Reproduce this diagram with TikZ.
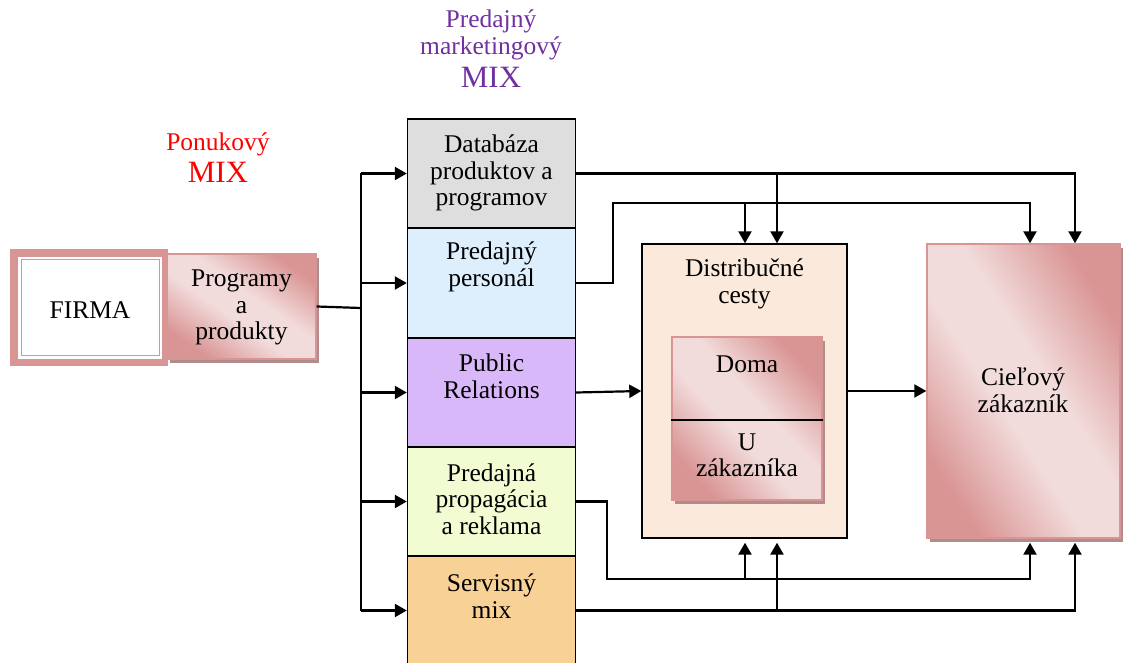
\documentclass[tikz,border=0pt]{standalone}
\usepackage{fontspec}
\setmainfont{Liberation Serif}
\usetikzlibrary{arrows.meta,shadows}

\definecolor{pinkD}{HTML}{D99594}
\definecolor{pinkL}{HTML}{F2DBDB}
\definecolor{pinkShadow}{HTML}{B08D8C}
\definecolor{dbGray}{HTML}{DEDEDE}
\definecolor{persBlue}{HTML}{DDEEFD}
\definecolor{prLilac}{HTML}{D9B8F9}
\definecolor{promoGreen}{HTML}{F2FCD3}
\definecolor{servOrange}{HTML}{F8D196}
\definecolor{distPeach}{HTML}{FBE9DB}
\definecolor{mixPurple}{HTML}{7030A0}
\definecolor{mixRed}{HTML}{FF0000}

% light diagonal band between darker corners
\pgfdeclareverticalshading{pinkband}{100bp}{color(0bp)=(pinkD); color(25bp)=(pinkD); color(44bp)=(pinkL); color(56bp)=(pinkL); color(75bp)=(pinkD); color(100bp)=(pinkD)}

\tikzset{
  txt/.style={font=\fontsize{25.5}{26.5}\selectfont, align=center, inner sep=0pt},
  bigtxt/.style={txt, font=\fontsize{31}{32}\selectfont},
  cell/.style={draw=black, line width=1.4pt, minimum width=168, minimum height=109, inner sep=0pt},
  pinkbox/.style={draw=pinkD, line width=1.4pt, shading=pinkband, shading angle=-45,
    drop shadow={shadow xshift=3pt, shadow yshift=-4pt, fill=pinkShadow, opacity=1},
    inner sep=0pt},
  conn/.style={line width=2.2pt},
  arr/.style={conn, -{Triangle[length=12pt,width=13pt]}},
}

\begin{document}
\begin{tikzpicture}[x=1pt,y=-1pt]
\useasboundingbox (0,0) rectangle (1124,663);

% headings
\node[txt, text=mixPurple] (mixTitle) at (491,35) {Predajný\\marketingový};
\node[bigtxt, text=mixPurple] (mixTitleB) at (491,77) {MIX};
\node[txt, text=mixRed] (offerTitle) at (218,144) {Ponukový};
\node[bigtxt, text=mixRed] (offerTitleB) at (218,172) {MIX};

% company
\node[fill=pinkD, minimum width=158, minimum height=117, inner sep=0pt] (firmaOuter) at (89,307.5) {};
\node[fill=white, minimum width=144, minimum height=102, inner sep=0pt] (firmaInner) at (90,307.5) {};
\node[draw=pinkD, line width=1pt, minimum width=138, minimum height=96, inner sep=0pt] (firmaLine) at (90,307.5) {};
\node[txt] (firma) at (90,310) {FIRMA};

\node[pinkbox, shading angle=-35, minimum width=149, minimum height=105] (prog) at (241.5,306.5) {};
\node[txt] (progT) at (241.5,307.5) {Programy\\a\\produkty};

% marketing mix column
\node[cell, fill=dbGray] (db) at (491.5,173.5) {};
\node[cell, fill=persBlue, minimum height=110] (pers) at (491.5,283) {};
\node[cell, fill=prLilac] (pr) at (491.5,392.5) {};
\node[cell, fill=promoGreen] (promo) at (491.5,501.5) {};
\node[cell, fill=servOrange] (serv) at (491.5,610.5) {};

\node[txt] (dbT) at (491.5,173) {Databáza\\produktov a\\programov};
\node[txt] (persT) at (491.5,267) {Predajný\\personál};
\node[txt] (prT) at (491.5,376.5) {Public\\Relations};
\node[txt] (promoT) at (491.5,499) {Predajná\\propagácia\\a reklama};
\node[txt] (servT) at (491.5,596) {Servisný\\mix};

% distribution channels
\node[draw=black, line width=1.4pt, fill=distPeach, minimum width=205, minimum height=294, inner sep=0pt] (dist) at (744.5,391) {};
\node[txt] (distT) at (744.5,284) {Distribučné\\cesty};
\node[pinkbox, shading angle=-47, minimum width=150, minimum height=163] (home) at (747,418.5) {};
\draw[line width=1.4pt] (home.west |- 0,420) -- (home.east |- 0,420);
\node[txt] (homeT) at (747,364) {Doma};
\node[txt] (homeB) at (747,455.5) {U\\zákazníka};

% target customer
\node[pinkbox, shading angle=-57, minimum width=193, minimum height=294] (cust) at (1023.5,391) {};
\node[txt] (custT) at (1023,390.5) {Cieľový\\zákazník};

% branch points
\coordinate (bus) at (361,0);
\coordinate (dA) at (745,0);
\coordinate (dB) at (777,0);
\coordinate (cA) at (1030,0);
\coordinate (cB) at (1075,0);
\coordinate (persUp) at (613,203);
\coordinate (promoDown) at (607,579);

% feed from the company into the mix
\draw[conn] (prog.east) -- (bus |- 0,308);
\draw[conn] (bus |- db.west) -- (bus |- serv.west);
\foreach \c in {db,pers,pr,promo,serv}
  \draw[arr] (bus |- \c.west) -- (\c.west);

% top links
\draw[arr] (db.east) -| (cB |- cust.north);
\draw[arr] (dB |- db.east) -- (dB |- dist.north);
\draw[arr] (pers.east) -| (persUp) -| (cA |- cust.north);
\draw[arr] (dA |- persUp) -- (dA |- dist.north);

% middle links
\draw[arr] (pr.east) -- (dist.west);
\draw[arr] (dist.east) -- (cust.west);

% bottom links
\draw[arr] (promo.east) -| (promoDown) -| ([yshift=-4pt]cA |- cust.south);
\draw[arr] (dA |- promoDown) -- ([yshift=-4pt]dA |- dist.south);
\draw[arr] (serv.east) -| ([yshift=-4pt]cB |- cust.south);
\draw[arr] (dB |- serv.east) -- ([yshift=-4pt]dB |- dist.south);
\end{tikzpicture}
\end{document}
